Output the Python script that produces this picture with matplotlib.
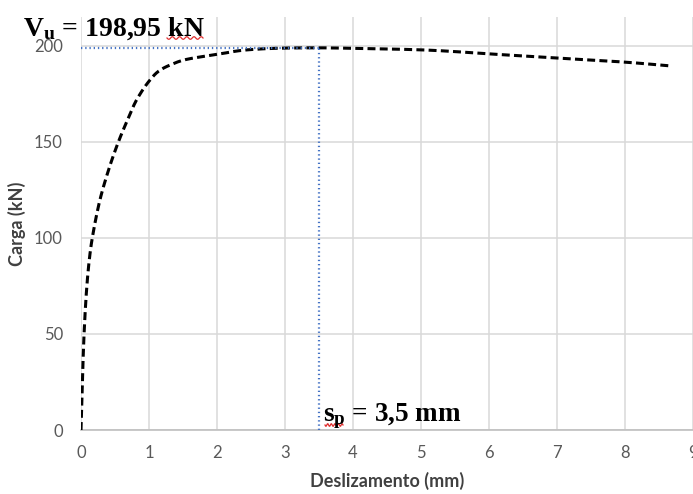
import numpy as np
import matplotlib
matplotlib.use("Agg")
import matplotlib.pyplot as plt

# Load-slip curve
slip = [0, 0.02, 0.045, 0.08, 0.12, 0.166, 0.28, 0.42, 0.55, 0.685, 0.82, 1.01, 1.15,
        1.31, 1.56, 2.0, 2.48, 2.97, 3.5, 4.0, 5.0, 6.0, 7.0, 8.0, 8.68]
load = [0, 25, 50, 72, 88, 100, 120, 137, 150, 161.5, 172, 182, 187,
        190, 193, 195.5, 198, 198.8, 198.95, 198.7, 197.9, 195.8, 193.6, 191.5, 189.5]

v_u = 198.95
s_p = 3.5
x_ticks = [0, 1, 2, 3, 4, 5, 6, 7, 8, 9]
y_ticks = [0, 50, 100, 150, 200]

plt.rcParams['mathtext.fontset'] = 'custom'
plt.rcParams['mathtext.rm'] = 'Liberation Serif:bold'
plt.rcParams['mathtext.it'] = 'Liberation Serif:bold'
plt.rcParams['mathtext.bf'] = 'Liberation Serif:bold'


def smooth_path(xs, ys, n=20):
    """Centripetal Catmull-Rom curve through the given points."""
    p = np.column_stack([xs, ys]).astype(float)
    p = np.vstack([2 * p[0] - p[1], p, 2 * p[-1] - p[-2]])
    out = []
    for i in range(1, len(p) - 2):
        p0, p1, p2, p3 = p[i - 1], p[i], p[i + 1], p[i + 2]
        t0 = 0.0
        t1 = t0 + np.linalg.norm(p1 - p0) ** 0.5
        t2 = t1 + np.linalg.norm(p2 - p1) ** 0.5
        t3 = t2 + np.linalg.norm(p3 - p2) ** 0.5
        t = np.linspace(t1, t2, n)[:, None]
        a1 = (t1 - t) / (t1 - t0) * p0 + (t - t0) / (t1 - t0) * p1
        a2 = (t2 - t) / (t2 - t1) * p1 + (t - t1) / (t2 - t1) * p2
        a3 = (t3 - t) / (t3 - t2) * p2 + (t - t2) / (t3 - t2) * p3
        b1 = (t2 - t) / (t2 - t0) * a1 + (t - t0) / (t2 - t0) * a2
        b2 = (t3 - t) / (t3 - t1) * a2 + (t - t1) / (t3 - t1) * a3
        c = (t2 - t) / (t2 - t1) * b1 + (t - t1) / (t2 - t1) * b2
        out.append(c if i == 1 else c[1:])
    c = np.vstack(out)
    return c[:, 0], c[:, 1]


W, H = 693, 494
fig = plt.figure(figsize=(W / 100, H / 100), dpi=100)
ax = fig.add_axes([81 / W, 1 - 430 / H, 1 - 81 / W, (430 - 17) / H])

ax.set_xlim(0, 8.99)
ax.set_ylim(0, 215)
ax.set_xticks(x_ticks)
ax.set_yticks(y_ticks)
ax.grid(True, color='#d9d9d9', linewidth=1.1)
ax.set_axisbelow(True)
for side in ['top', 'right', 'left']:
    ax.spines[side].set_visible(False)
ax.spines['bottom'].set_color('#bfbfbf')
ax.spines['bottom'].set_linewidth(1.2)
ax.tick_params(axis='y', length=0, labelsize=12, labelcolor='#595959', pad=13)
ax.tick_params(axis='x', length=0, labelsize=12, labelcolor='#595959', pad=11)
for lab in ax.get_xticklabels() + ax.get_yticklabels():
    lab.set_fontfamily('Lato')

sx, sy = smooth_path(slip, load)
ax.plot(sx, sy, color='black', linewidth=2.2, linestyle=(0, (2.6, 1.4)),
        solid_capstyle='butt', zorder=3)
ax.plot([0, s_p], [v_u, v_u], color='#4472c4', linewidth=1.6, linestyle=(0, (0.6, 1.3)), zorder=4)
ax.plot([s_p, s_p], [0, v_u], color='#4472c4', linewidth=1.6, linestyle=(0, (0.6, 1.3)), zorder=4)

ax.set_xlabel('Deslizamento (mm)', fontsize=13, fontweight='bold', color='#404040',
              family='Lato', labelpad=8)
ax.set_ylabel('Carga (kN)', fontsize=13, fontweight='bold', color='#404040',
              family='Lato', labelpad=6)

fig.text(23 / W, 1 - 36 / H, r'V$_{\rm u}$ = 198,95 kN', fontsize=20, fontweight='bold',
         family='Liberation Serif', ha='left', va='baseline')
fig.text(323 / W, 1 - 421 / H, r's$_{\rm p}$ = 3,5 mm', fontsize=19.5, fontweight='bold',
         family='Liberation Serif', ha='left', va='baseline')


# spell-check squiggles under the annotation text
def squiggle(x0, x1, y):
    xs = np.linspace(x0, x1, 60)
    ys = y + 1.3 * np.sin((xs - x0) / (x1 - x0) * 2 * np.pi * 5)
    fig.add_artist(plt.Line2D(xs / W, 1 - ys / H, color='#e03030', linewidth=0.9,
                              transform=fig.transFigure))


squiggle(167, 203, 38)
squiggle(325, 343, 425)

fig.savefig('out.png', dpi=100)
